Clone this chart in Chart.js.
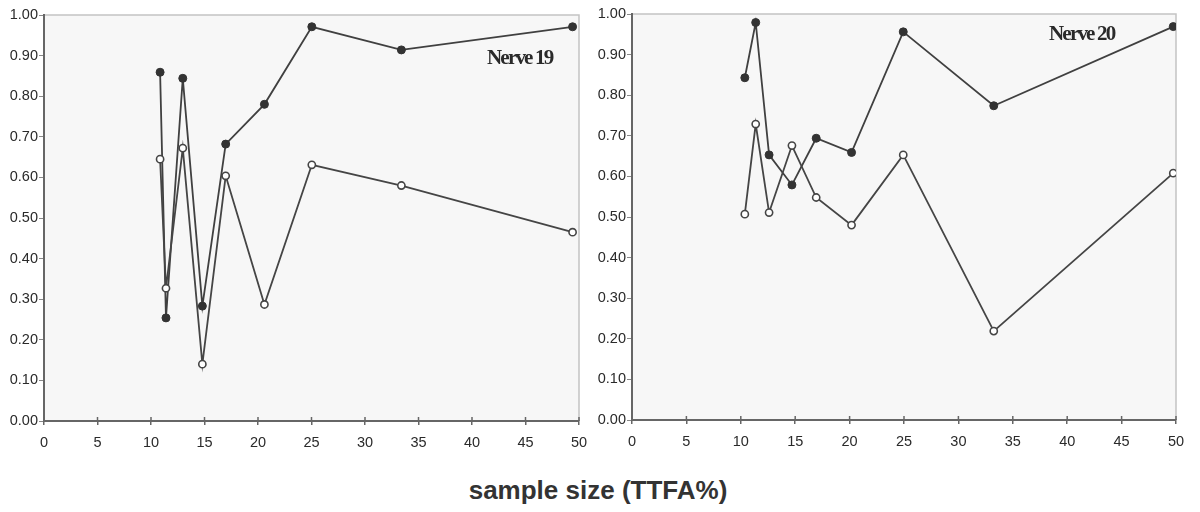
<!DOCTYPE html>
<html>
<head>
<meta charset="utf-8">
<script src="https://cdn.jsdelivr.net/npm/chart.js@4/dist/chart.umd.min.js"></script>
<style>
  html,body{margin:0;padding:0;background:#fff;width:1200px;height:512px;overflow:hidden;}
  .box{position:absolute;}
  .title{position:absolute;font-family:"Liberation Serif","Times New Roman",serif;font-weight:bold;font-size:21px;letter-spacing:-1.8px;color:#2a2a2a;white-space:nowrap;line-height:1;}
  #xlabel{position:absolute;left:0;width:1196px;text-align:center;top:477px;font-family:"Liberation Sans",Arial,sans-serif;font-weight:bold;font-size:26px;color:#333;line-height:1;}
</style>
</head>
<body>
<div class="box" id="b1" style="left:0;top:0;width:590px;height:460px;"><canvas id="c1"></canvas></div>
<div class="box" id="b2" style="left:590px;top:0;width:610px;height:460px;"><canvas id="c2"></canvas></div>
<div class="title" style="left:487px;top:47px;">Nerve 19</div>
<div class="title" style="left:1049px;top:23px;">Nerve 20</div>
<div id="xlabel">sample size (TTFA%)</div>
<script>
// ---- data ----
const xTicks = [0,5,10,15,20,25,30,35,40,45,50];
const yTicks = [0,0.1,0.2,0.3,0.4,0.5,0.6,0.7,0.8,0.9,1.0];

const nerve19X      = [10.85, 11.4, 12.97, 14.8, 16.98, 20.6, 25.03, 33.4, 49.4];
const nerve19Filled = [0.859, 0.254, 0.844, 0.283, 0.682, 0.780, 0.971, 0.914, 0.971];
const nerve19Open   = [0.645, 0.327, 0.672, 0.140, 0.604, 0.287, 0.631, 0.580, 0.465];

const nerve20X      = [10.37, 11.37, 12.6, 14.7, 16.93, 20.18, 24.93, 33.25, 49.75];
const nerve20Filled = [0.843, 0.979, 0.653, 0.579, 0.694, 0.659, 0.956, 0.774, 0.969];
const nerve20Open   = [0.507, 0.729, 0.511, 0.676, 0.548, 0.480, 0.653, 0.219, 0.608];

function pts(xs, ys){ return xs.map((x,i)=>({x:x, y:ys[i]})); }

const areaPlugin = {
  id:'areaPlugin',
  beforeDraw(chart){
    const a = chart.chartArea, ctx = chart.ctx;
    ctx.save();
    ctx.fillStyle = '#f7f7f7';
    ctx.fillRect(a.left, a.top, a.right-a.left, a.bottom-a.top);
    ctx.strokeStyle = '#c4c4c4';
    ctx.lineWidth = 1.5;
    ctx.beginPath();
    ctx.moveTo(a.left, a.top); ctx.lineTo(a.right, a.top); ctx.lineTo(a.right, a.bottom);
    ctx.stroke();
    ctx.restore();
  },
  afterDraw(chart){
    const a = chart.chartArea, ctx = chart.ctx;
    const xs = chart.scales.x;
    ctx.save();
    ctx.strokeStyle = '#666';
    ctx.lineWidth = 1.5;
    xTicks.forEach(v=>{
      const px = xs.getPixelForValue(v);
      ctx.beginPath(); ctx.moveTo(px, a.bottom-4); ctx.lineTo(px, a.bottom); ctx.stroke();
    });
    ctx.restore();
  }
};

function makeChart(id, xs, filled, open, yW, padR, padT, xH){
  const font = {family:'"Liberation Sans", Arial, sans-serif', size:14.5};
  return new Chart(document.getElementById(id), {
    type:'scatter',
    data:{datasets:[
      {data:pts(xs, open), showLine:true, borderColor:'#454545', borderWidth:1.8,
       pointRadius:3.6, pointBackgroundColor:'#ffffff', pointBorderColor:'#454545', pointBorderWidth:1.6},
      {data:pts(xs, filled), showLine:true, borderColor:'#404040', borderWidth:1.8,
       pointRadius:4, pointBackgroundColor:'#333333', pointBorderColor:'#333333', pointBorderWidth:1}
    ]},
    options:{
      responsive:true, maintainAspectRatio:false, animation:false, devicePixelRatio:1,
      layout:{padding:{left:0, right:padR, top:padT, bottom:0}},
      plugins:{legend:{display:false}, tooltip:{enabled:false}},
      scales:{
        x:{type:'linear', min:0, max:50,
           afterBuildTicks(s){ s.ticks = xTicks.map(v=>({value:v})); },
           afterFit(s){ s.height = xH; s.paddingRight = 0; s.paddingLeft = 0; },
           grid:{drawOnChartArea:false, drawTicks:true, tickLength:4, color:'#666', lineWidth:1.5},
           border:{color:'#666', width:2},
           ticks:{color:'#2a2a2a', font:font, padding:9, maxRotation:0, autoSkip:false}},
        y:{type:'linear', min:0, max:1,
           afterBuildTicks(s){ s.ticks = yTicks.map(v=>({value:v})); },
           afterFit(s){ s.width = yW; s.paddingTop = 0; s.paddingBottom = 0; },
           grid:{drawOnChartArea:false, drawTicks:true, tickLength:5, color:'#888', lineWidth:1},
           border:{color:'#666', width:2},
           ticks:{color:'#2a2a2a', font:font, padding:1, autoSkip:false,
                  callback:v=>Number(v).toFixed(2)}}
      }
    },
    plugins:[areaPlugin]
  });
}

makeChart('c1', nerve19X, nerve19Filled, nerve19Open, 44, 11, 15, 39);
makeChart('c2', nerve20X, nerve20Filled, nerve20Open, 42, 24, 14, 40);
</script>
</body>
</html>
